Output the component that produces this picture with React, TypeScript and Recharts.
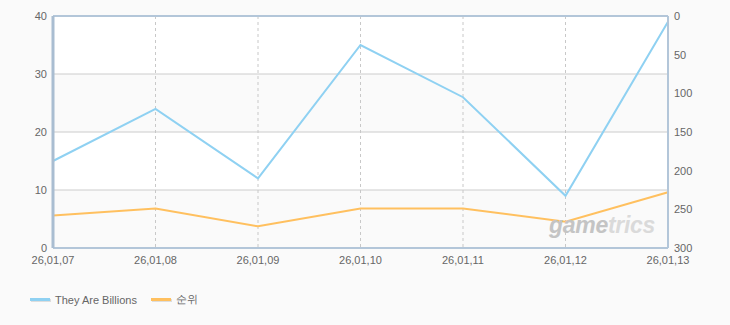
import React from "react";
import { LineChart, Line, XAxis, YAxis, CartesianGrid, ReferenceLine } from "recharts";

const categories = ["26,01,07", "26,01,08", "26,01,09", "26,01,10", "26,01,11", "26,01,12", "26,01,13"];
const players = [15, 24, 12, 35, 26, 9, 39];
const ranks = [258, 249, 272, 249, 249, 266, 228];
const leftTicks = [0, 10, 20, 30, 40];
const rightTicks = [0, 50, 100, 150, 200, 250, 300];

const data = categories.map((c, i) => ({ date: c, players: players[i], rank: ranks[i] }));

const FONT = "'Liberation Sans', Arial, sans-serif";
const tickStyle = { fontSize: 11, fill: "#666666", fontFamily: FONT };
const AXIS = "#b3c6d9";

const LegendItem = ({ color, label }: { color: string; label: string }) => (
  <div style={{ display: "flex", alignItems: "center", marginRight: 14 }}>
    <div style={{ width: 20, height: 3, background: color, boxShadow: "1px 1px 0 #ddd", marginRight: 5 }} />
    <span style={{ fontSize: 11, color: "#666", fontFamily: FONT }}>{label}</span>
  </div>
);

export default function App() {
  return (
    <div style={{ position: "absolute", left: 0, top: 0, width: 730, height: 325, background: "#fafafa" }}>
      <LineChart width={730} height={325} data={data} margin={{ top: 16, right: 0, left: 0, bottom: 47 }}>
        <CartesianGrid
          yAxisId="left"
          stroke="#cccccc"
          horizontalFill={["#ffffff", "#fafafa"]}
          fillOpacity={1}
          vertical={false}
        />
        <CartesianGrid yAxisId="left" stroke="#c8c8c8" strokeDasharray="3 3" horizontal={false} />
        <XAxis
          dataKey="date"
          tick={tickStyle}
          tickLine={false}
          axisLine={{ stroke: AXIS, strokeWidth: 2 }}
          height={30}
          interval={0}
          tickMargin={2}
        />
        <YAxis
          yAxisId="left"
          domain={[0, 40]}
          ticks={leftTicks}
          tick={tickStyle}
          tickLine={false}
          axisLine={{ stroke: "#a9bdd1", strokeWidth: 3 }}
          width={53}
          tickMargin={0}
        />
        <YAxis
          yAxisId="right"
          orientation="right"
          reversed
          domain={[0, 300]}
          ticks={rightTicks}
          tick={tickStyle}
          tickLine={false}
          axisLine={{ stroke: AXIS, strokeWidth: 2 }}
          width={62}
          tickMargin={0}
        />
        <ReferenceLine yAxisId="left" y={40} stroke={AXIS} strokeWidth={2} />
        <Line
          yAxisId="left"
          type="linear"
          dataKey="players"
          stroke="#8fd1f2"
          strokeWidth={2}
          dot={false}
          isAnimationActive={false}
        />
        <Line
          yAxisId="right"
          type="linear"
          dataKey="rank"
          stroke="#ffc05f"
          strokeWidth={2}
          dot={false}
          isAnimationActive={false}
        />
      </LineChart>
      <div
        style={{
          position: "absolute",
          left: 549,
          top: 214,
          fontFamily: FONT,
          fontWeight: "bold",
          fontStyle: "italic",
          fontSize: 23,
          lineHeight: "23px",
          letterSpacing: -0.3,
          pointerEvents: "none",
          whiteSpace: "nowrap",
        }}
      >
        <span style={{ color: "#c4c4c4" }}>game</span>
        <span style={{ color: "#dadada" }}>trics</span>
      </div>
      <div style={{ position: "absolute", left: 30, top: 292, display: "flex" }}>
        <LegendItem color="#8fd1f2" label="They Are Billions" />
        <LegendItem color="#ffc05f" label="순위" />
      </div>
    </div>
  );
}
